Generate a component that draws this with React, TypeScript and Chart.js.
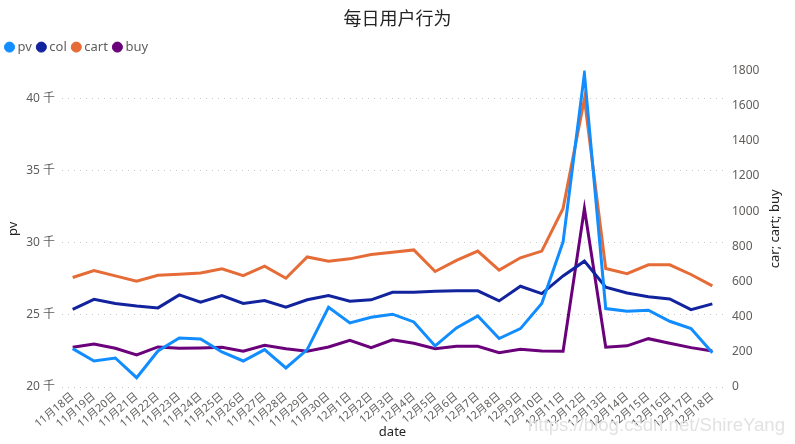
import React, { useEffect, useRef } from "react";
import { Chart, registerables } from "chart.js";

Chart.register(...registerables);

const dates = [
  "11月18日","11月19日","11月20日","11月21日","11月22日","11月23日","11月24日","11月25日",
  "11月26日","11月27日","11月28日","11月29日","11月30日","12月1日","12月2日","12月3日",
  "12月4日","12月5日","12月6日","12月7日","12月8日","12月9日","12月10日","12月11日",
  "12月12日","12月13日","12月14日","12月15日","12月16日","12月17日","12月18日",
];

const pv = [
  22660, 21805, 22014, 20646, 22500, 23403, 23333, 22430, 21805, 22590, 21319, 22590,
  25534, 24444, 24840, 25050, 24514, 22847, 24097, 24930, 23360, 24050, 25785, 30069,
  41736, 25440, 25255, 25323, 24560, 24050, 22380,
];

const col = [
  442, 499, 475, 461, 450, 524, 482, 520, 475, 492, 454, 496, 520, 488, 496, 539,
  539, 545, 547, 547, 490, 573, 531, 632, 716, 568, 535, 513, 501, 440, 473,
];

const cart = [
  623, 663, 632, 602, 636, 642, 649, 672, 634, 687, 619, 740, 716, 729, 754, 767,
  780, 657, 720, 773, 665, 735, 773, 1016, 1639, 674, 645, 695, 695, 640, 575,
];

const buy = [
  226, 245, 220, 182, 228, 220, 222, 226, 203, 237, 218, 203, 228, 266, 224, 268,
  249, 218, 232, 232, 195, 215, 205, 203, 1015, 226, 234, 275, 249, 224, 205,
];

const pvTicks = [20000, 25000, 30000, 35000, 40000];
const pvRange = [20000, 41944];
const rightRange = [0, 1800];
const rightTitle = "car; cart; buy";

const FONT = "'Segoe UI', 'Noto Sans', 'Noto Sans CJK SC', sans-serif";

const rightTitlePlugin = {
  id: "rightTitle",
  afterDraw(chart: any) {
    const { ctx, chartArea } = chart;
    ctx.save();
    ctx.translate(775, (chartArea.top + chartArea.bottom) / 2);
    ctx.rotate(-Math.PI / 2);
    ctx.fillStyle = "#252423";
    ctx.font = `13px ${FONT}`;
    ctx.textAlign = "center";
    ctx.textBaseline = "middle";
    ctx.fillText(rightTitle, 0, 0);
    ctx.restore();
  },
};

const legendExtraPlugin = {
  id: "legendExtra",
  afterInit(chart: any) {
    const lg = chart.legend;
    if (!lg || lg.__patched) return;
    const orig = lg.fit.bind(lg);
    lg.fit = () => {
      orig();
      lg.height += 7;
    };
    lg.__patched = true;
  },
};

export default function App() {
  const ref = useRef<HTMLCanvasElement | null>(null);

  useEffect(() => {
    if (!ref.current) return;
    const chart = new Chart(ref.current, {
      type: "line",
      data: {
        labels: dates,
        datasets: [
          { label: "pv", data: pv, yAxisID: "y", borderColor: "#118DFF", backgroundColor: "#118DFF" },
          { label: "col", data: col, yAxisID: "y1", borderColor: "#12239E", backgroundColor: "#12239E" },
          { label: "cart", data: cart, yAxisID: "y1", borderColor: "#E66C37", backgroundColor: "#E66C37" },
          { label: "buy", data: buy, yAxisID: "y1", borderColor: "#6B007B", backgroundColor: "#6B007B" },
        ],
      },
      plugins: [rightTitlePlugin, legendExtraPlugin],
      options: {
        animation: false,
        responsive: false,
        maintainAspectRatio: false,
        layout: { padding: { left: 0, right: 0, top: 7, bottom: 0 } },
        elements: {
          line: { borderWidth: 3, tension: 0 },
          point: { radius: 0, hoverRadius: 0 },
        },
        plugins: {
          title: {
            display: true,
            text: "每日用户行为",
            color: "#252423",
            font: { family: FONT, size: 18, weight: "normal" },
            padding: { top: 2, bottom: 2 },
          },
          legend: {
            display: true,
            align: "start",
            labels: {
              usePointStyle: true,
              pointStyle: "circle",
              boxWidth: 3,
              boxHeight: 7.1,
              padding: 8,
              color: "#605E5C",
              font: { family: FONT, size: 13 },
            },
          },
          tooltip: { enabled: false },
        },
        scales: {
          x: {
            offset: true,
            grid: { display: false, drawTicks: false },
            border: { display: false },
            afterFit: (s: any) => { s.height = 57; },
            ticks: {
              color: "#605E5C",
              font: { family: FONT, size: 11 },
              maxRotation: 40,
              minRotation: 40,
              autoSkip: false,
              padding: 3,
            },
            title: {
              display: true,
              text: "date",
              color: "#252423",
              font: { family: FONT, size: 13 },
              padding: { top: 0, bottom: 4 },
            },
          },
          y: {
            position: "left",
            min: pvRange[0],
            max: pvRange[1],
            afterFit: (s: any) => { s.width = 62; },
            afterBuildTicks: (s: any) => { s.ticks = pvTicks.map((v) => ({ value: v })); },
            grid: { color: "#C8C6C4", lineWidth: 1, drawTicks: false },
            border: { display: false, dash: [1, 5] },
            ticks: {
              color: "#605E5C",
              padding: 7,
              font: { family: FONT, size: 12 },
              callback: (v: any) => `${Number(v) / 1000} 千`,
            },
            title: {
              display: true,
              text: "pv",
              color: "#252423",
              font: { family: FONT, size: 13 },
              padding: { top: 5, bottom: 0 },
            },
          },
          y1: {
            position: "right",
            min: rightRange[0],
            max: rightRange[1],
            afterFit: (s: any) => { s.width = 72; },
            grid: { drawOnChartArea: false, drawTicks: false },
            border: { display: false },
            ticks: {
              stepSize: 200,
              color: "#605E5C",
              padding: 9,
              font: { family: FONT, size: 12 },
              callback: (v: any) => String(v),
            },
          },
        },
      },
    });
    return () => chart.destroy();
  }, []);

  return (
    <div style={{ position: "fixed", left: 0, top: 0, width: 795, height: 444, background: "#fff" }}>
      <canvas ref={ref} width={795} height={444} style={{ display: "block" }} />
      <div
        style={{
          position: "absolute",
          left: 528,
          top: 414,
          fontFamily: "Arial, 'Liberation Sans', sans-serif",
          fontSize: 18.6,
          lineHeight: "21px",
          color: "#E2E2E2",
          pointerEvents: "none",
          whiteSpace: "nowrap",
        }}
      >
        https://blog.csdn.net/ShireYang
      </div>
    </div>
  );
}
